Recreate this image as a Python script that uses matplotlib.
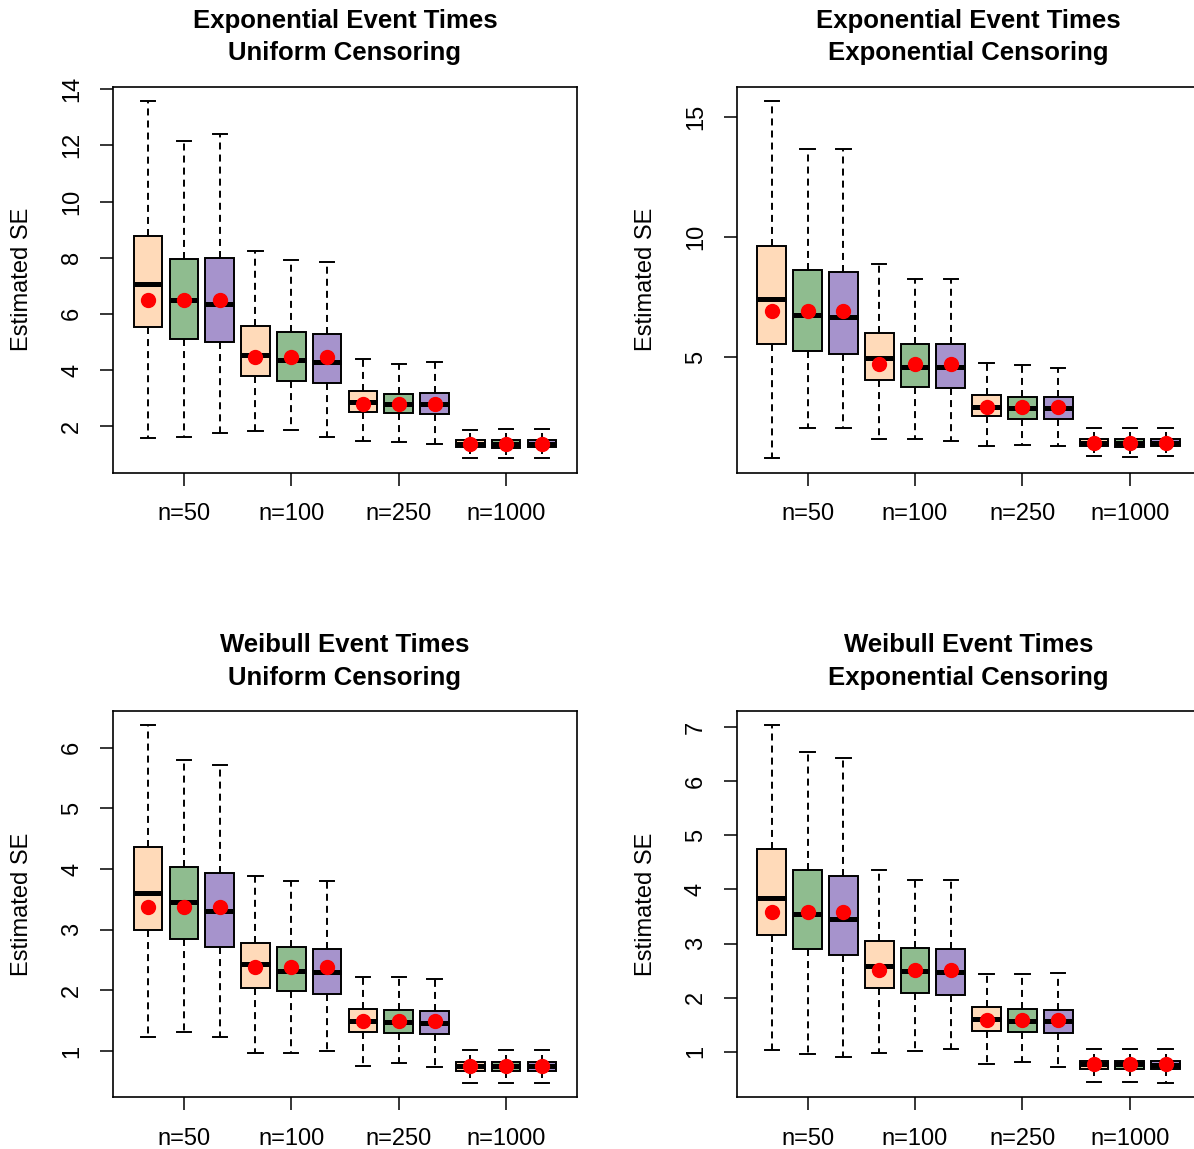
import numpy as np
import matplotlib
matplotlib.use("Agg")
import matplotlib.pyplot as plt

plt.rcParams["font.family"] = ["Liberation Sans", "DejaVu Sans"]

# ---- data (3 methods x 4 sample sizes per panel) ----
sample_labels = ["n=50", "n=100", "n=250", "n=1000"]
box_colors = ["#FFDAB9", "#8FBC8F", "#A693CC"]

titles = [
    "Exponential Event Times\nUniform Censoring",
    "Exponential Event Times\nExponential Censoring",
    "Weibull Event Times\nUniform Censoring",
    "Weibull Event Times\nExponential Censoring",
]

# exponential events, uniform censoring
eu_whislo = [1.57, 1.62, 1.74, 1.81, 1.87, 1.62, 1.47, 1.43, 1.38, 0.87, 0.85, 0.86]
eu_q1 = [5.53, 5.11, 5.00, 3.80, 3.60, 3.53, 2.49, 2.45, 2.42, 1.24, 1.23, 1.24]
eu_med = [7.05, 6.49, 6.36, 4.55, 4.35, 4.29, 2.86, 2.77, 2.77, 1.37, 1.37, 1.37]
eu_q3 = [8.77, 7.96, 8.00, 5.57, 5.34, 5.27, 3.25, 3.15, 3.18, 1.50, 1.50, 1.50]
eu_whishi = [13.58, 12.16, 12.41, 8.22, 7.92, 7.83, 4.40, 4.21, 4.30, 1.87, 1.89, 1.89]
eu_mean = [6.49, 6.49, 6.49, 4.46, 4.46, 4.46, 2.80, 2.80, 2.80, 1.37, 1.37, 1.37]

# exponential events, exponential censoring
ee_whislo = [0.77, 2.05, 2.02, 1.56, 1.58, 1.51, 1.29, 1.33, 1.30, 0.88, 0.83, 0.86]
ee_q1 = [5.54, 5.25, 5.13, 4.03, 3.75, 3.72, 2.52, 2.43, 2.43, 1.27, 1.26, 1.27]
ee_med = [7.42, 6.77, 6.67, 4.94, 4.60, 4.60, 2.93, 2.86, 2.86, 1.42, 1.42, 1.42]
ee_q3 = [9.65, 8.63, 8.55, 6.00, 5.56, 5.53, 3.43, 3.34, 3.32, 1.59, 1.57, 1.57]
ee_whishi = [15.68, 13.68, 13.68, 8.89, 8.26, 8.26, 4.75, 4.67, 4.53, 2.04, 2.04, 2.04]
ee_mean = [6.91, 6.91, 6.91, 4.69, 4.69, 4.69, 2.90, 2.90, 2.90, 1.42, 1.42, 1.42]

# weibull events, uniform censoring
wu_whislo = [1.24, 1.32, 1.23, 0.97, 0.97, 1.01, 0.75, 0.81, 0.74, 0.48, 0.48, 0.48]
wu_q1 = [3.00, 2.84, 2.71, 2.04, 1.99, 1.94, 1.31, 1.30, 1.28, 0.68, 0.68, 0.68]
wu_med = [3.60, 3.45, 3.31, 2.43, 2.32, 2.30, 1.49, 1.48, 1.46, 0.75, 0.75, 0.75]
wu_q3 = [4.36, 4.04, 3.94, 2.79, 2.72, 2.69, 1.69, 1.68, 1.66, 0.82, 0.82, 0.82]
wu_whishi = [6.37, 5.79, 5.72, 3.89, 3.81, 3.81, 2.23, 2.23, 2.19, 1.02, 1.02, 1.02]
wu_mean = [3.37, 3.37, 3.37, 2.39, 2.39, 2.39, 1.50, 1.50, 1.50, 0.75, 0.75, 0.75]

# weibull events, exponential censoring
we_whislo = [1.04, 0.96, 0.91, 0.98, 1.01, 1.05, 0.78, 0.82, 0.72, 0.44, 0.45, 0.43]
we_q1 = [3.16, 2.90, 2.79, 2.17, 2.09, 2.05, 1.39, 1.37, 1.35, 0.69, 0.69, 0.69]
we_med = [3.85, 3.55, 3.45, 2.58, 2.49, 2.47, 1.60, 1.57, 1.57, 0.77, 0.77, 0.76]
we_q3 = [4.75, 4.35, 4.25, 3.05, 2.92, 2.90, 1.83, 1.80, 1.78, 0.83, 0.83, 0.83]
we_whishi = [7.03, 6.53, 6.42, 4.35, 4.18, 4.18, 2.43, 2.43, 2.45, 1.06, 1.06, 1.06]
we_mean = [3.59, 3.59, 3.59, 2.51, 2.51, 2.51, 1.59, 1.59, 1.59, 0.77, 0.77, 0.77]

yticks = [np.arange(2, 15, 2), [5, 10, 15], np.arange(1, 7), np.arange(1, 8)]


def make_stats(whislo, q1, med, q3, whishi, mean):
    return [
        dict(whislo=a, q1=b, med=c, q3=d, whishi=e, mean=f, fliers=[])
        for a, b, c, d, e, f in zip(whislo, q1, med, q3, whishi, mean)
    ]


panels = [
    make_stats(eu_whislo, eu_q1, eu_med, eu_q3, eu_whishi, eu_mean),
    make_stats(ee_whislo, ee_q1, ee_med, ee_q3, ee_whishi, ee_mean),
    make_stats(wu_whislo, wu_q1, wu_med, wu_q3, wu_whishi, wu_mean),
    make_stats(we_whislo, we_q1, we_med, we_q3, we_whishi, we_mean),
]


### ---------------- plotting ---------------- ###
W, H = 1194, 1149
fig = plt.figure(figsize=(W / 100, H / 100), dpi=100)

# axes boxes in pixels: (left, top, width, height); right column runs off the page
boxes_px = [(113, 86.7, 464, 386), (736.7, 86.7, 464, 386),
            (113, 711, 464, 386), (736.7, 711, 464, 386)]

positions = np.arange(1, 13)
for k, (stats, (lx, ty, wd, ht)) in enumerate(zip(panels, boxes_px)):
    ax = fig.add_axes([lx / W, 1 - (ty + ht) / H, wd / W, ht / H])
    bp = ax.bxp(
        stats, positions=positions, widths=0.8, capwidths=0.4,
        showmeans=True, showfliers=False, patch_artist=True,
        boxprops=dict(linewidth=1.4, edgecolor="black"),
        medianprops=dict(color="black", linewidth=3.6, solid_capstyle="butt"),
        whiskerprops=dict(color="black", linewidth=1.4, linestyle=(0, (3.6, 2.6))),
        capprops=dict(color="black", linewidth=1.4),
        meanprops=dict(marker="o", markerfacecolor="red", markeredgecolor="red",
                       markersize=10),
    )
    for i, patch in enumerate(bp["boxes"]):
        patch.set_facecolor(box_colors[i % 3])
    for m in bp["means"]:
        m.set_zorder(5)

    ax.set_xlim(0.02, 12.98)
    ax.margins(y=0.04)
    ax.set_xticks([2, 5, 8, 11])
    ax.set_xticklabels(sample_labels, fontsize=17, va="center")
    ax.set_yticks(yticks[k])
    ax.set_yticklabels([str(v) for v in yticks[k]], fontsize=17,
                       rotation=90, va="center", ha="center")
    ax.tick_params(axis="both", direction="out", length=9.4, width=1.1)
    ax.tick_params(axis="y", pad=20)
    ax.tick_params(axis="x", pad=20.5)
    for sp in ax.spines.values():
        sp.set_linewidth(1.2)
    ax.text(-91 / wd, 0.5, "Estimated SE", transform=ax.transAxes,
            rotation=90, ha="center", va="center", fontsize=17)
    ax.set_title(titles[k], fontsize=18.5, fontweight="bold", pad=19,
                 linespacing=1.45)

fig.savefig("out.png", dpi=100, facecolor="w")
